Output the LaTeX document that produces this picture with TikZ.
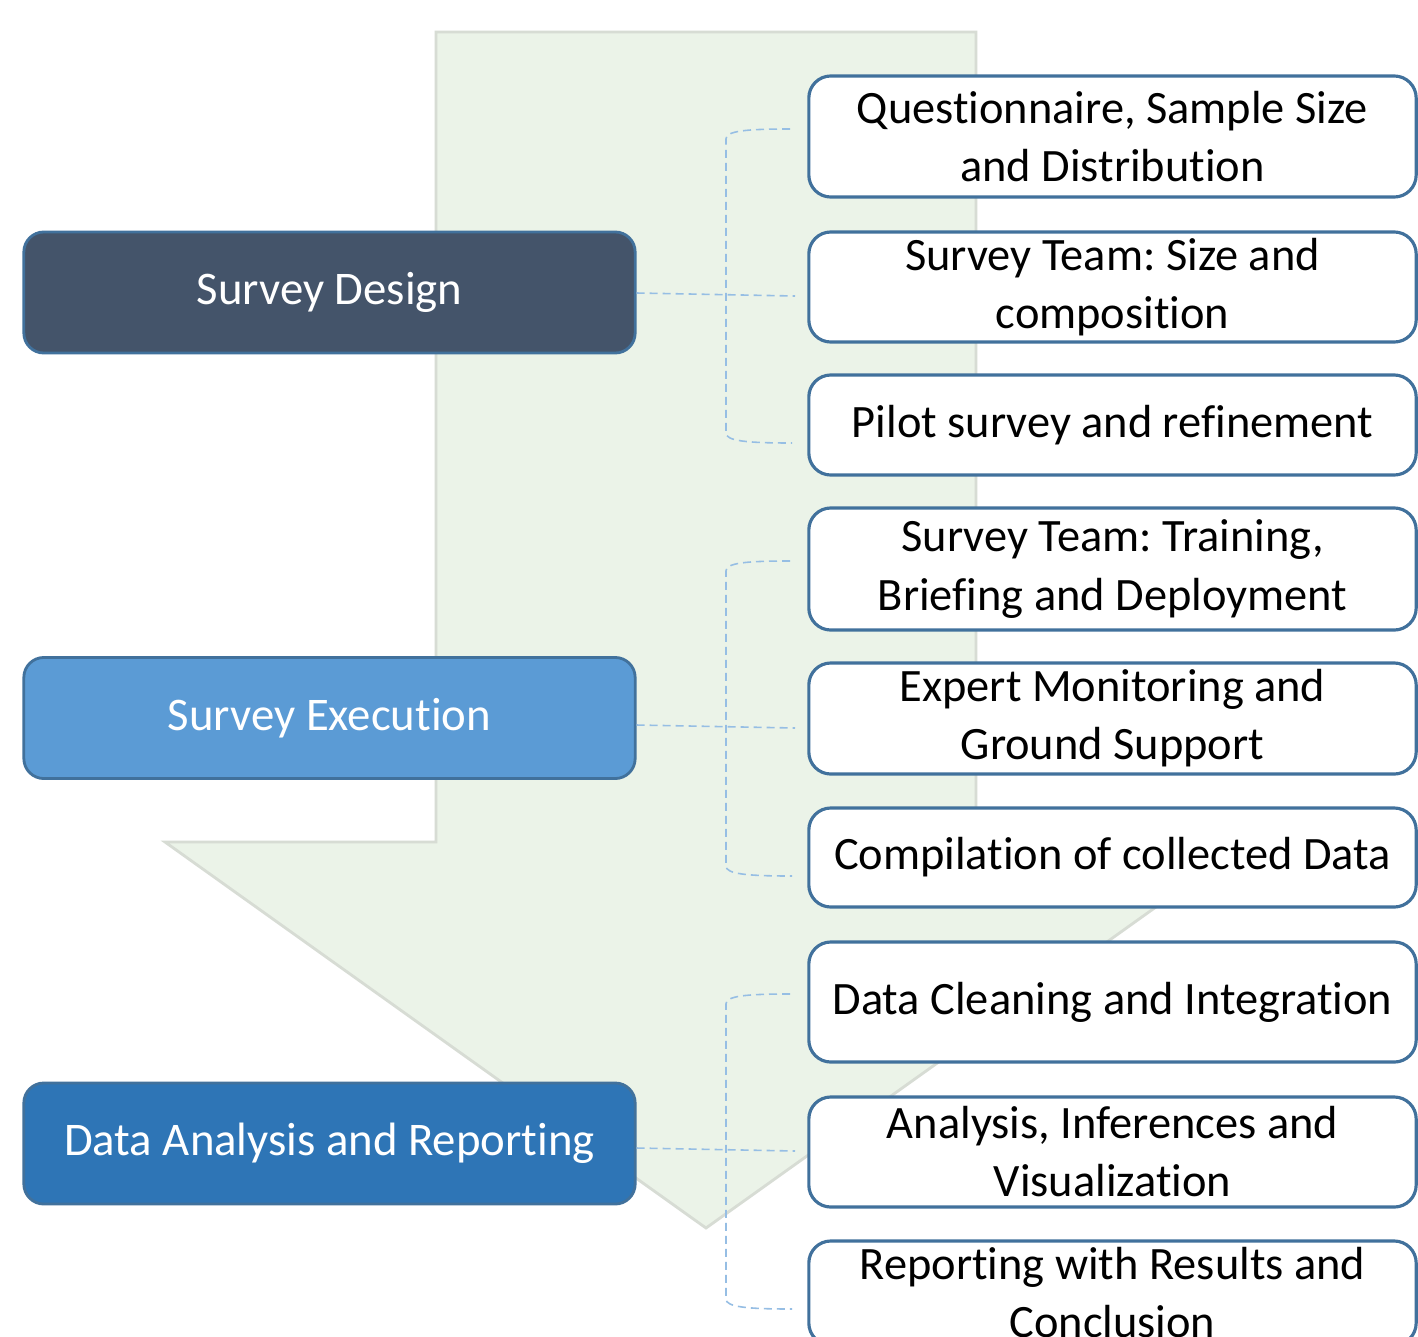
\documentclass[tikz,border=0pt]{standalone}
\usepackage{fontspec}
\setmainfont{Carlito}[Ligatures={NoCommon}]
\frenchspacing
\definecolor{arrowfill}{RGB}{235,243,232}
\definecolor{arrowedge}{RGB}{215,220,212}
\definecolor{sdcol}{RGB}{68,84,106}
\definecolor{secol}{RGB}{91,155,213}
\definecolor{dacol}{RGB}{46,117,182}
\definecolor{edgeblue}{RGB}{65,113,156}
\definecolor{dashcol}{RGB}{150,190,228}
\tikzset{
  phase/.style={draw=edgeblue, line width=0.8pt, rounded corners=0.2cm, minimum width=6.11cm, minimum height=1.21cm, inner sep=0pt, text=white, font=\fontsize{13.3pt}{16pt}\selectfont},
  task/.style={draw=edgeblue, line width=0.9pt, fill=white, rounded corners=0.22cm, minimum width=6.07cm, inner sep=0pt, align=center, text=black, font=\fontsize{13.2pt}{16.5pt}\selectfont},
  dashline/.style={draw=dashcol, line width=0.45pt, dash pattern=on 0.08cm off 0.05cm},
}
\begin{document}
\begin{tikzpicture}[x=0.01cm,y=-0.01cm]
\clip (0,0) rectangle (1418,1336);
\fill[white] (0,0) rectangle (1418,1336);
% big arrow
\draw[fill=arrowfill, draw=arrowedge, line width=0.8pt]
  (436,32) -- (976,32) -- (976,842) -- (1247,842) -- (706,1228) -- (165,842) -- (436,842) -- cycle;
% phase boxes
\node[phase, fill=sdcol] (sd) at (329.5,292.5) {Survey Design};
\node[phase, fill=secol] (se) at (329.5,718) {Survey Execution};
\node[phase, fill=dacol] (da) at (329.5,1143.5) {Data Analysis and Reporting};
% task boxes
\node[task, minimum height=1.21cm] (r1) at (1112.5,136.5) {Questionnaire, Sample Size\\and Distribution};
\node[task, minimum height=1.10cm] (r2) at (1112.5,287) {Survey Team: Size and\\composition};
\node[task, minimum height=1.00cm] (r3) at (1112.5,425) {Pilot survey and refinement};
\node[task, minimum height=1.22cm] (r4) at (1112.5,569) {Survey Team: Training,\\Briefing and Deployment};
\node[task, minimum height=1.11cm] (r5) at (1112.5,718.5) {Expert Monitoring and\\Ground Support};
\node[task, minimum height=0.99cm] (r6) at (1112.5,857.5) {Compilation of collected Data};
\node[task, minimum height=1.20cm] (r7) at (1112.5,1002) {Data Cleaning and Integration};
\node[task, minimum height=1.10cm] (r8) at (1112.5,1152) {Analysis, Inferences and\\Visualization};
\node[task, minimum height=1.04cm] (r9) at (1112.5,1293) {Reporting with Results and\\Conclusion};
% bracket end points
\coordinate (b1t) at (790,129); \coordinate (b1m) at (795,296); \coordinate (b1b) at (792,443);
\coordinate (b2t) at (790,561); \coordinate (b2m) at (795,728); \coordinate (b2b) at (792,876);
\coordinate (b3t) at (790,994); \coordinate (b3m) at (795,1151); \coordinate (b3b) at (792,1309);
% brackets
\foreach \t/\b in {b1t/b1b, b2t/b2b, b3t/b3b}{
  \draw[dashline] (\t) .. controls ([xshift=-0.45cm]\t) and ([xshift=-0.64cm,yshift=-0.02cm]\t) .. ([xshift=-0.64cm,yshift=-0.1cm]\t)
     -- ([xshift=-0.66cm,yshift=0.1cm]\b) .. controls ([xshift=-0.66cm,yshift=0.02cm]\b) and ([xshift=-0.45cm]\b) .. (\b);
}
% connectors
\draw[dashline] ([yshift=-0.005cm]sd.east) -- (b1m);
\draw[dashline] ([yshift=-0.07cm]se.east) -- (b2m);
\draw[dashline] ([yshift=-0.045cm]da.east) -- (b3m);
\end{tikzpicture}
\end{document}
